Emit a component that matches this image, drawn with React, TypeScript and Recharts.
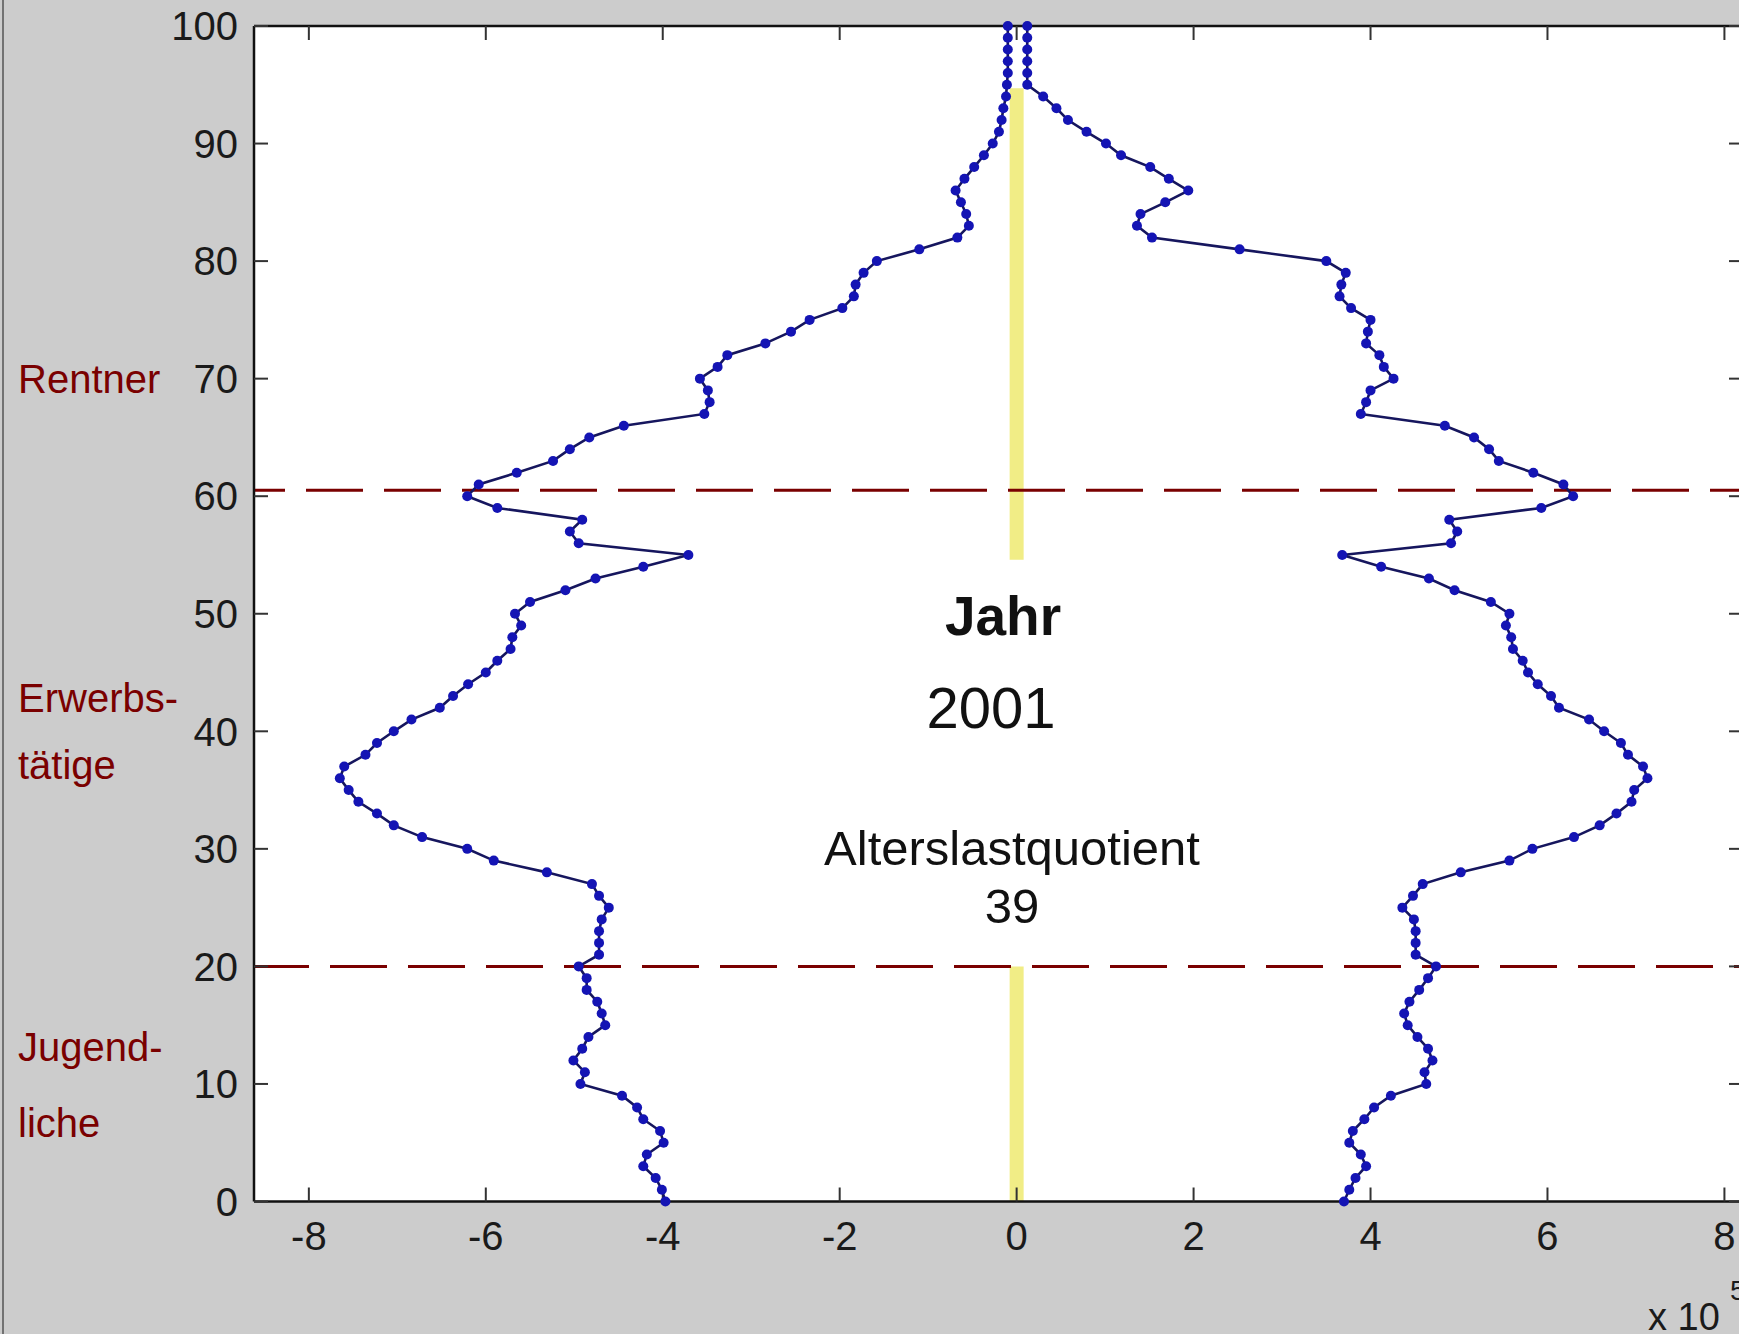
import React from "react";
import { ScatterChart, Scatter, XAxis, YAxis, ReferenceLine, CartesianGrid } from "recharts";

// population by age, in units of 10^5 (left side negative)
const ages = Array.from({ length: 101 }, (_, i) => i);
const leftSide = [
  -3.97, -4.01, -4.08, -4.22, -4.18, -3.99, -4.03, -4.22, -4.29, -4.46,
  -4.93, -4.88, -5.01, -4.91, -4.84, -4.65, -4.69, -4.74, -4.86, -4.86,
  -4.95, -4.72, -4.72, -4.72, -4.69, -4.61, -4.72, -4.8, -5.31, -5.91,
  -6.21, -6.72, -7.04, -7.23, -7.44, -7.55, -7.65, -7.6, -7.36, -7.23,
  -7.04, -6.84, -6.52, -6.37, -6.2, -6.0, -5.87, -5.72, -5.7, -5.6,
  -5.67, -5.5, -5.1, -4.76, -4.22, -3.71, -4.95, -5.05, -4.91, -5.87,
  -6.21, -6.08, -5.65, -5.24, -5.05, -4.83, -4.44, -3.53, -3.47, -3.49,
  -3.58, -3.38, -3.27, -2.84, -2.55, -2.34, -1.97, -1.84, -1.82, -1.73,
  -1.58, -1.1, -0.67, -0.54, -0.57, -0.63, -0.69, -0.59, -0.48, -0.37,
  -0.27, -0.2, -0.17, -0.15, -0.12, -0.11, -0.1, -0.1, -0.1, -0.1, -0.1,
];
const rightSide = [
  3.7, 3.76, 3.83, 3.95, 3.89, 3.76, 3.8, 3.93, 4.04, 4.23,
  4.63, 4.61, 4.7, 4.65, 4.53, 4.42, 4.38, 4.44, 4.55, 4.65,
  4.74, 4.51, 4.51, 4.51, 4.49, 4.36, 4.48, 4.59, 5.02, 5.57,
  5.83, 6.3, 6.59, 6.78, 6.95, 6.98, 7.13, 7.08, 6.91, 6.83,
  6.64, 6.47, 6.13, 6.04, 5.89, 5.78, 5.72, 5.61, 5.59, 5.53,
  5.57, 5.36, 4.95, 4.66, 4.12, 3.68, 4.91, 4.98, 4.89, 5.93,
  6.29, 6.18, 5.84, 5.45, 5.34, 5.17, 4.84, 3.89, 3.95, 4.0,
  4.26, 4.15, 4.1, 3.95, 3.97, 4.0, 3.78, 3.65, 3.67, 3.72,
  3.5, 2.52, 1.53, 1.36, 1.4, 1.68, 1.94, 1.72, 1.51, 1.18,
  1.01, 0.79, 0.58, 0.45, 0.3, 0.12, 0.12, 0.12, 0.12, 0.12, 0.12,
];

const xTicks = [-8, -6, -4, -2, 0, 2, 4, 6, 8];
const yTicks = [0, 10, 20, 30, 40, 50, 60, 70, 80, 90, 100];
const xDomain = [-8.62, 8.21];
const retireAge = 60.5;
const youthAge = 20;
const yellowSegments = [
  [0, 20],
  [54.6, 94.7],
];

const font = '"Liberation Sans", Arial, Helvetica, sans-serif';
const red = "#7a0000";

const Dot = (p: any) => <circle cx={p.cx} cy={p.cy} r={5} fill="#1414b4" />;
const NoLabel = () => <g />;

export default function App() {
  const leftData = ages.map((age, i) => ({ v: leftSide[i], age }));
  const rightData = ages.map((age, i) => ({ v: rightSide[i], age }));
  const axisLine = { stroke: "#111", strokeWidth: 2.5 };
  const tickLine = { stroke: "#333", strokeWidth: 2 };
  const tickStyle = { fill: "#1a1a1a", fontSize: 40, fontFamily: font };
  const curve = { stroke: "#16165e", strokeWidth: 2.6 };

  return (
    <div style={{ position: "absolute", left: 0, top: 0, width: 1739, height: 1334, overflow: "hidden", background: "#cccccc" }}>
      <ScatterChart width={1760} height={1334} margin={{ top: 26, right: 17, bottom: 92.5, left: 194 }}>
        <CartesianGrid xAxisId="b" yAxisId="l" fill="#ffffff" horizontal={false} vertical={false} />
        <XAxis xAxisId="b" type="number" dataKey="v" domain={xDomain} allowDataOverflow ticks={xTicks} interval={0}
          height={40} tickSize={-14} tickMargin={34.5} axisLine={axisLine} tickLine={tickLine} tick={tickStyle} />
        <XAxis xAxisId="t" orientation="top" type="number" dataKey="v" domain={xDomain} allowDataOverflow ticks={xTicks}
          interval={0} height={1} mirror tickSize={14} tick={NoLabel} axisLine={axisLine} tickLine={tickLine} />
        <YAxis yAxisId="l" type="number" dataKey="age" domain={[0, 100]} ticks={yTicks} interval={0}
          width={60} tickSize={-14} tickMargin={30} axisLine={axisLine} tickLine={tickLine} tick={tickStyle} />
        <YAxis yAxisId="r" orientation="right" type="number" dataKey="age" domain={[0, 100]} ticks={yTicks}
          interval={0} width={1} mirror tickSize={14} tick={NoLabel} axisLine={axisLine} tickLine={tickLine} />
        {yellowSegments.map(([a, b], i) => (
          <ReferenceLine key={i} xAxisId="b" yAxisId="l" segment={[{ x: 0, y: a }, { x: 0, y: b }]}
            stroke="#f1ed86" strokeWidth={14} ifOverflow="visible" />
        ))}
        <Scatter xAxisId="b" yAxisId="l" data={leftData} shape={Dot} line={curve} isAnimationActive={false} />
        <Scatter xAxisId="t" yAxisId="r" data={rightData} shape={Dot} line={curve} isAnimationActive={false} />
        <ReferenceLine xAxisId="b" yAxisId="l" y={retireAge} stroke={red} strokeWidth={3}
          strokeDasharray="57 21" strokeDashoffset={26} />
        <ReferenceLine xAxisId="b" yAxisId="l" y={youthAge} stroke={red} strokeWidth={3}
          strokeDasharray="57 21" strokeDashoffset={2} />
      </ScatterChart>
      <svg width={1739} height={1334} style={{ position: "absolute", left: 0, top: 0, pointerEvents: "none" }}>
        <line x1={3} y1={0} x2={3} y2={1334} stroke="#555" strokeWidth={1.5} />
        <g fontFamily={font} fill={red} fontSize={40}>
          <text x={18} y={393}>Rentner</text>
          <text x={18} y={712}>Erwerbs-</text>
          <text x={18} y={779}>tätige</text>
          <text x={18} y={1061}>Jugend-</text>
          <text x={18} y={1137}>liche</text>
        </g>
        <g fontFamily={font} fill="#111" textAnchor="middle">
          <text x={1003} y={635} fontSize={55} fontWeight="bold">Jahr</text>
          <text x={991} y={728} fontSize={58}>2001</text>
          <text x={1012} y={865} fontSize={49}>Alterslastquotient</text>
          <text x={1012} y={923} fontSize={49}>39</text>
        </g>
        <g fontFamily={font} fill="#1a1a1a">
          <text x={1648} y={1330} fontSize={38}>x 10</text>
          <text x={1730} y={1300} fontSize={28}>5</text>
        </g>
      </svg>
    </div>
  );
}
